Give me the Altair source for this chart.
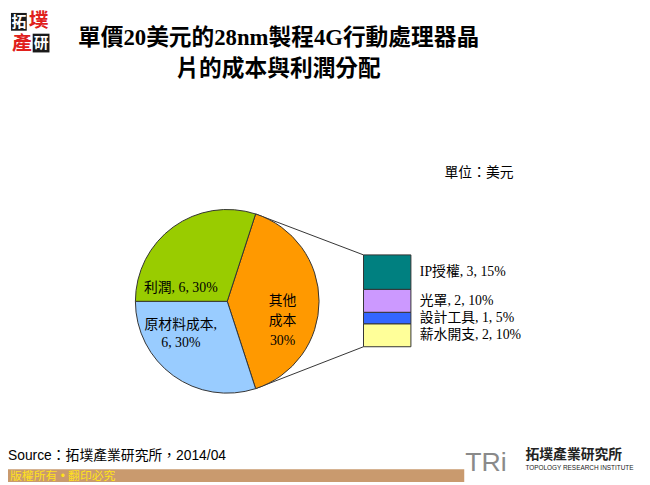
import math
import altair as alt
import pandas as pd

# ---------------- data ----------------
pie_categories = ["其他成本", "原材料成本", "利潤"]
pie_values = [8, 6, 6]
pie_colors = ["#FF9900", "#99CCFF", "#99CC00"]
pie_label_lines = [["其他", "成本", "30%"], ["原材料成本,", "6, 30%"], ["利潤, 6, 30%"]]

bar_categories = ["IP授權", "光罩", "設計工具", "薪水開支"]
bar_values = [3, 2, 1, 2]
bar_percents = ["15%", "10%", "5%", "10%"]
bar_colors = ["#008080", "#CC99FF", "#3366FF", "#FFFF99"]

title_lines = ["單價20美元的28nm製程4G行動處理器晶", "片的成本與利潤分配"]
unit_text = "單位：美元"
source_text = "Source：拓墣產業研究所，2014/04"
copyright_text = "版權所有 • 翻印必究"

# ---------------- layout ----------------
W, H = 642, 477
CX, CY, R = 222, 294, 93
BAR_X0, BAR_X1 = 360, 408
BAR_BOTTOM, BAR_TOP = 340, 247
SERIF = "Liberation Serif, Noto Sans CJK TC"
SANS = "Liberation Sans, Noto Sans CJK TC"

pie_total = sum(pie_values)
split_frac = pie_values[0] / pie_total
start_angle = math.pi / 2 - math.pi * split_frac
end_split = start_angle + 2 * math.pi * split_frac

pie_df = pd.DataFrame({
    "cat": pie_categories,
    "value": pie_values,
    "idx": list(range(len(pie_categories))),
})
one_df = pd.DataFrame({"k": [0]})

bar_total = sum(bar_values)
rows = []
acc = 0
for cat, v, p in reversed(list(zip(bar_categories, bar_values, bar_percents))):
    rows.append({"cat": cat, "start": acc, "end": acc + v, "mid": acc + v / 2,
                 "label": f"{cat}, {v}, {p}"})
    acc += v
bar_df = pd.DataFrame(rows)

color_scale = alt.Scale(domain=pie_categories + bar_categories,
                        range=pie_colors + bar_colors)
y_scale = alt.Scale(domain=[0, bar_total], range=[BAR_BOTTOM, BAR_TOP])

pie = alt.Chart(pie_df).mark_arc(outerRadius=R, stroke="#333333", strokeWidth=1).encode(
    theta=alt.Theta("value:Q", stack=True,
                    scale=alt.Scale(range=[start_angle, start_angle + 2 * math.pi])),
    color=alt.Color("cat:N", scale=color_scale, legend=None),
    order=alt.Order("idx:Q", sort="ascending"),
    x=alt.value(CX), y=alt.value(CY),
)

bars = alt.Chart(bar_df).mark_bar(stroke="#333333", strokeWidth=1).encode(
    x=alt.value(BAR_X0), x2=alt.value(BAR_X1),
    y=alt.Y("start:Q", scale=y_scale, axis=None),
    y2="end:Q",
    color=alt.Color("cat:N", scale=color_scale, legend=None),
)

bar_labels = alt.Chart(bar_df).mark_text(
    align="left", baseline="middle", font=SERIF, fontSize=14, color="#000000"
).encode(
    x=alt.value(417),
    y=alt.Y("mid:Q", scale=y_scale, axis=None),
    text="label:N",
)

def pt(a):
    return CX + R * math.sin(a), CY - R * math.cos(a)

p1 = pt(start_angle)
p2 = pt(end_split)
conn1 = alt.Chart(one_df).mark_rule(color="#333333", strokeWidth=1).encode(
    x=alt.value(p1[0]), y=alt.value(p1[1]), x2=alt.value(BAR_X0), y2=alt.value(BAR_TOP))
conn2 = alt.Chart(one_df).mark_rule(color="#333333", strokeWidth=1).encode(
    x=alt.value(p2[0]), y=alt.value(p2[1]), x2=alt.value(BAR_X0), y2=alt.value(BAR_BOTTOM))


def txt(text, x, y, size, font=SANS, color="#000000", align="center",
        bold=False, line_height=None, baseline="middle"):
    kw = dict(text=text, align=align, baseline=baseline, font=font, fontSize=size,
              color=color)
    if bold:
        kw["fontWeight"] = "bold"
    if line_height is not None:
        kw["lineHeight"] = line_height
    return alt.Chart(one_df).mark_text(**kw).encode(x=alt.value(x), y=alt.value(y))


def box(x, x2, y, y2, color):
    return alt.Chart(one_df).mark_rect(color=color).encode(
        x=alt.value(x), x2=alt.value(x2), y=alt.value(y), y2=alt.value(y2))


pie_lbl_other = txt(pie_label_lines[0], 278, 294, 14, font=SERIF, line_height=20)
pie_lbl_raw = txt(pie_label_lines[1], 175, 318, 14, font=SERIF, line_height=18)
pie_lbl_profit = txt(pie_label_lines[2], 175, 281, 14, font=SERIF)

title1 = txt(title_lines[0], 274, 27, 23, font=SERIF, bold=True)
title2 = txt(title_lines[1], 274, 59, 23, font=SERIF, bold=True)
unit = txt(unit_text, 477, 164, 14, font=SERIF)
source = txt(source_text, 0, 451, 14, font=SANS, align="left")

# decorations (logos / footer band)
logo = [
    box(3, 19, 2, 20, "#1a1a1a"),
    txt("拓", 11, 11, 15, color="#ffffff", bold=True),
    txt("墣", 31, 10, 20, color="#e0201c", bold=True),
    txt("產", 14, 34, 20, color="#e0201c", bold=True),
    box(25, 42, 23, 42, "#1a1a1a"),
    txt("研", 33.5, 32.5, 15, color="#ffffff", bold=True),
]
band = box(0, 462, 464, 477, "#C99A6E")
copyright_lbl = txt(copyright_text, 2, 471, 12, color="#FFE21A", align="left")
tri = txt("TRi", 463, 458, 27, font="Liberation Sans", color="#8a8a8a", align="left")
tri_cn = txt("拓墣產業研究所", 524, 450, 14, color="#222222", align="left", bold=True)
tri_en = txt("TOPOLOGY RESEARCH INSTITUTE", 524, 463, 6.5, color="#222222", align="left")

chart = alt.layer(
    band, copyright_lbl, tri, tri_cn, tri_en, *logo,
    conn1, conn2, pie, bars, bar_labels,
    pie_lbl_other, pie_lbl_raw, pie_lbl_profit,
    title1, title2, unit, source,
).properties(
    width=W, height=H,
    autosize=alt.AutoSizeParams(type="none"),
    padding=0,
    background="#ffffff",
).configure_view(stroke=None)

chart.save("out.html", embed_options={"renderer": "svg", "actions": False})
